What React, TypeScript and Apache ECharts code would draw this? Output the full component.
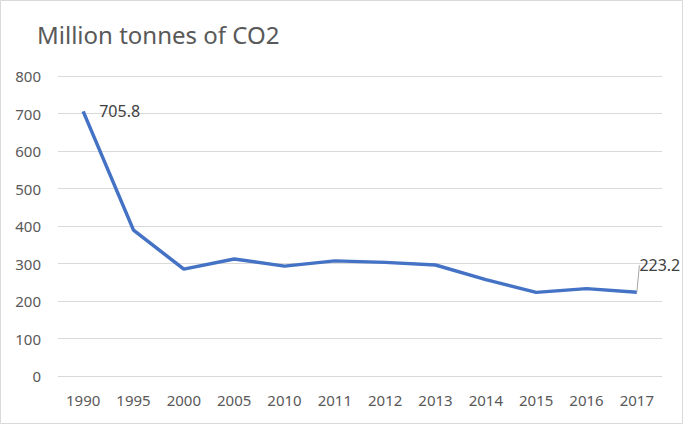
import React, { useEffect, useRef } from "react";
import * as echarts from "echarts";

const years = ["1990", "1995", "2000", "2005", "2010", "2011", "2012", "2013", "2014", "2015", "2016", "2017"];
const co2 = [705.8, 389, 285, 312, 293, 307, 303, 296, 257, 223, 233, 223.2];
const labelledIdx = [0, 11];
const titleText = "Million tonnes of CO2";

export default function App() {
  const ref = useRef<HTMLDivElement>(null);
  useEffect(() => {
    document.body.style.margin = "0";
    const chart = echarts.init(ref.current!, null, { renderer: "svg" });
    const txt = "#595959";
    const font = "Noto Sans";
    chart.setOption({
      animation: false,
      backgroundColor: "#ffffff",
      title: {
        text: titleText,
        left: 32,
        top: 17,
        textStyle: { fontFamily: font, fontSize: 24, fontWeight: "normal", color: txt },
      },
      graphic: [
        {
          type: "rect",
          shape: { x: 0.5, y: 0.5, width: 682, height: 423 },
          style: { fill: "none", stroke: "#d9d9d9", lineWidth: 1 },
        },
      ],
      grid: { left: 58, right: 23, top: 76, bottom: 49 },
      xAxis: {
        type: "category",
        data: years,
        boundaryGap: true,
        axisLine: { show: true, lineStyle: { color: "#d9d9d9" } },
        axisTick: { show: false },
        axisLabel: { color: txt, fontFamily: font, fontSize: 15, margin: 16 },
      },
      yAxis: {
        type: "value",
        min: 0,
        max: 800,
        interval: 100,
        axisLine: { show: false },
        axisTick: { show: false },
        splitLine: { lineStyle: { color: "#d9d9d9" } },
        axisLabel: { color: txt, fontFamily: font, fontSize: 15, margin: 17 },
      },
      series: [
        {
          type: "line",
          data: co2.map((v, i) => ({
            value: v,
            label: labelledIdx.includes(i)
              ? { show: true, position: i === 0 ? "right" : "top", distance: i === 0 ? 16 : 5 }
              : { show: false },
            labelLine: { show: i === 11 },
          })),
          showSymbol: true,
          symbol: "circle",
          symbolSize: 0.1,
          lineStyle: { color: "#4472C4", width: 3.5 },
          itemStyle: { color: "#4472C4" },
          label: {
            color: "#404040",
            fontFamily: font,
            fontSize: 16,
            formatter: (p: any) => String(p.value),
          },
          labelLine: { show: true, length2: 0, lineStyle: { color: "#a6a6a6", width: 1 } },
          labelLayout: (p: any) => (p.dataIndex === 11 ? { dx: 23, dy: -14 } : {}),
        },
      ],
    });
    return () => chart.dispose();
  }, []);
  return <div ref={ref} style={{ width: 685, height: 425 }} />;
}
